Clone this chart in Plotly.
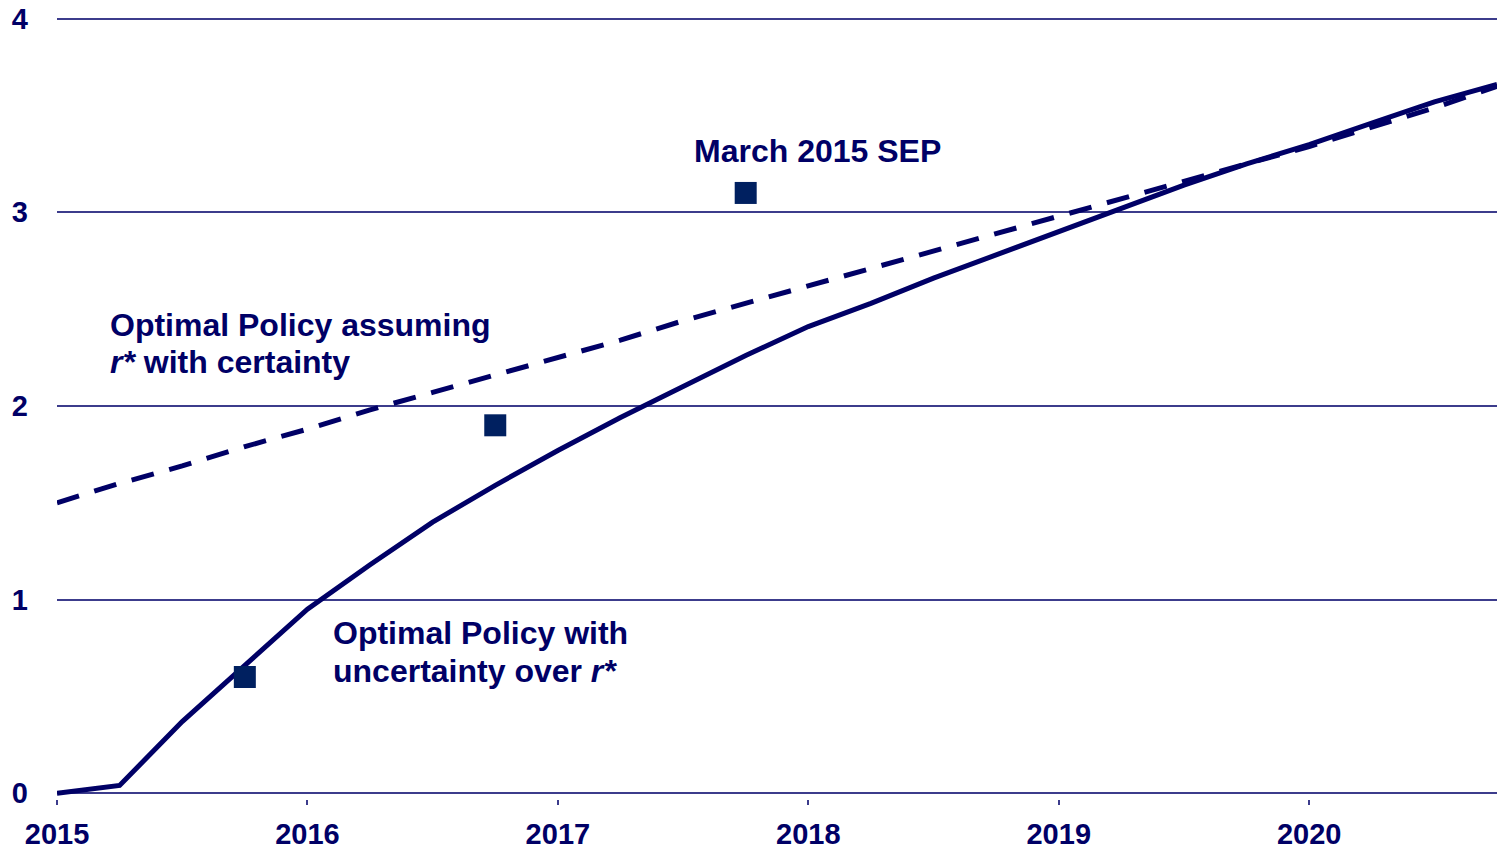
import plotly.graph_objects as go

# ---- data ----
quarters = [2015.00, 2015.25, 2015.50, 2015.75, 2016.00, 2016.25, 2016.50, 2016.75,
            2017.00, 2017.25, 2017.50, 2017.75, 2018.00, 2018.25, 2018.50, 2018.75,
            2019.00, 2019.25, 2019.50, 2019.75, 2020.00, 2020.25, 2020.50, 2020.75]
optimal_uncertain = [0.00, 0.04, 0.37, 0.66, 0.95, 1.18, 1.40, 1.59,
                     1.77, 1.94, 2.10, 2.26, 2.41, 2.53, 2.66, 2.78,
                     2.90, 3.02, 3.14, 3.25, 3.35, 3.46, 3.57, 3.66]
optimal_certain = [1.50, 1.60, 1.69, 1.79, 1.88, 1.98, 2.07, 2.16,
                   2.25, 2.34, 2.44, 2.53, 2.62, 2.71, 2.80, 2.89,
                   2.98, 3.07, 3.16, 3.25, 3.34, 3.44, 3.54, 3.65]
sep_dates = [2015.75, 2016.75, 2017.75]
sep_values = [0.60, 1.90, 3.10]
year_ticks = [2015, 2016, 2017, 2018, 2019, 2020]
y_ticks = [0, 1, 2, 3, 4]

NAVY = "#000066"
SQ = "#002060"
GRID = "#3c3c8c"
FONT = "Liberation Sans, Arial, sans-serif"

fig = go.Figure()
fig.add_trace(go.Scatter(x=quarters, y=optimal_certain, mode="lines",
                         line=dict(color=NAVY, width=5, dash="23px,16px"),
                         hoverinfo="skip"))
fig.add_trace(go.Scatter(x=quarters, y=optimal_uncertain, mode="lines",
                         line=dict(color=NAVY, width=5), hoverinfo="skip"))
fig.add_trace(go.Scatter(x=sep_dates, y=sep_values, mode="markers",
                         marker=dict(symbol="square", size=22, color=SQ),
                         hoverinfo="skip"))

tf = dict(family=FONT, size=32, color=NAVY)
ann = [
    dict(x=2017.536, y=3.318, text="<b>March 2015 SEP</b>"),
    dict(x=2015.204, y=2.419, text="<b>Optimal Policy assuming</b>"),
    dict(x=2015.204, y=2.227, text="<b><i>r*</i> with certainty</b>"),
    dict(x=2016.094, y=0.827, text="<b>Optimal Policy with</b>"),
    dict(x=2016.094, y=0.630, text="<b>uncertainty over <i>r*</i></b>"),
]
for a in ann:
    fig.add_annotation(xref="x", yref="y", xanchor="left", yanchor="middle",
                       showarrow=False, font=tf, **a)

fig.update_layout(
    width=1497, height=849,
    margin=dict(l=57, r=0, t=9, b=50),
    paper_bgcolor="white", plot_bgcolor="white",
    showlegend=False, hovermode=False,
    font=dict(family=FONT, color=NAVY),
)
fig.update_xaxes(range=[2015, 2020.75], tickvals=year_ticks,
                 ticktext=[f"<b>{y}</b>" for y in year_ticks],
                 tickfont=dict(family=FONT, size=29, color=NAVY),
                 showgrid=False, zeroline=False, showline=False,
                 ticks="outside", ticklen=5, tickcolor=GRID, tickwidth=1.5,
                 ticklabelstandoff=4)
fig.update_yaxes(range=[-0.03, 4.05], tickvals=y_ticks,
                 ticktext=[f"<b>{y}</b>" for y in y_ticks],
                 tickfont=dict(family=FONT, size=29, color=NAVY),
                 showgrid=True, gridcolor=GRID, gridwidth=1.5,
                 zeroline=True, zerolinecolor=GRID, zerolinewidth=1.5,
                 showline=False, ticks="", ticklabelstandoff=28)

# remove the browser's default 8px body margin so the figure fills the window
fig.write_html("out.html",
               config={"displayModeBar": False},
               post_script="document.body.style.margin='0px';"
                           "document.body.style.overflow='hidden';")
